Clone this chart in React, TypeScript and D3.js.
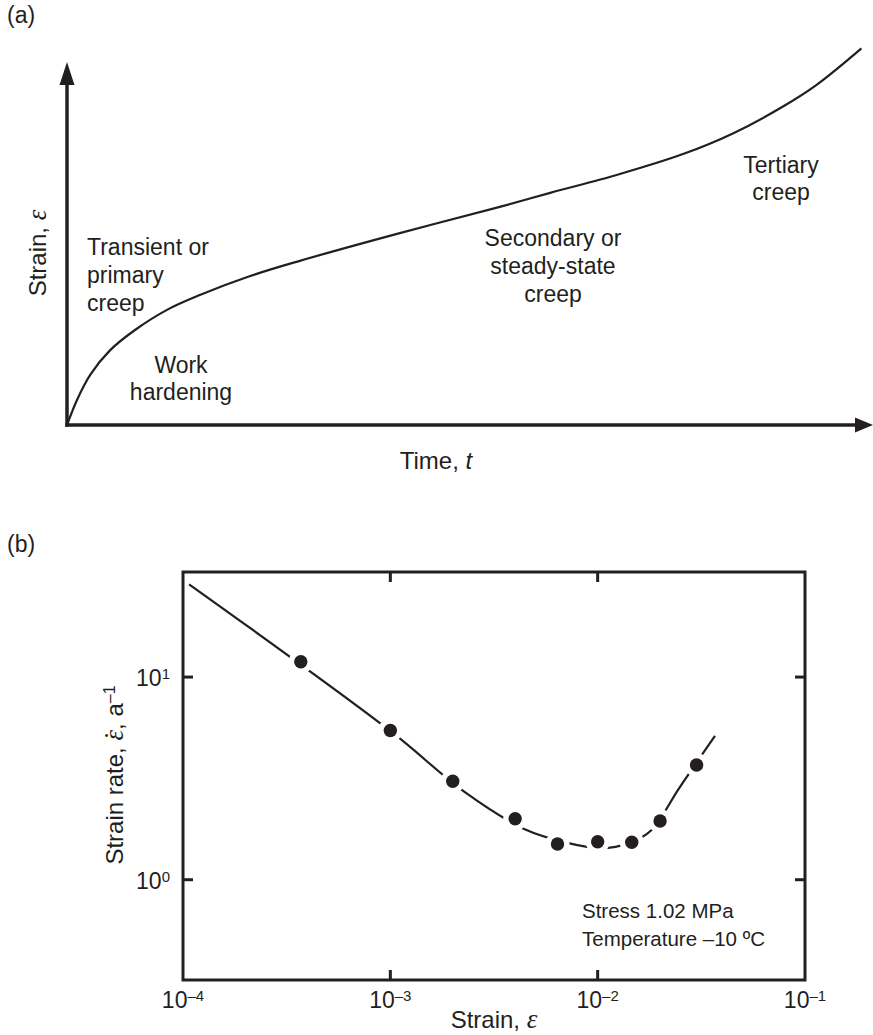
import React from "react";
import * as d3 from "d3";

const INK = "#231f20";
const SANS = "'Liberation Sans', Arial, Helvetica, sans-serif";
const SERIF = "'Liberation Serif', 'Times New Roman', serif";

// (a) idealised creep curve, time vs strain in arbitrary units
const creepTime = [0, 1.25, 2.9, 5.4, 8.5, 12.5, 16.6, 22.9, 29.1, 41.6, 54.1, 60.4, 68.7, 77.0, 83.3, 89.5, 93.7, 99.3];
const creepStrain = [0, 6.6, 13.2, 19.7, 25, 30.3, 34.2, 39.2, 43.2, 50.5, 57.4, 61.1, 65.8, 71.3, 76.8, 83.8, 89.5, 99.1];

// (b) measured strain rate (a^-1) against strain
const obsStrain = [3.7e-4, 1.0e-3, 2.0e-3, 4.0e-3, 6.4e-3, 1.0e-2, 1.46e-2, 2.0e-2, 3.0e-2];
const obsRate = [11.9, 5.45, 3.06, 2.0, 1.5, 1.54, 1.53, 1.95, 3.68];

// trend line drawn through the measurements
const fitStrain = [1.07e-4, 1.0e-3, 2.27e-3, 4.42e-3, 7.14e-3, 1.03e-2, 1.43e-2, 1.82e-2, 2.46e-2, 3.68e-2];
const fitRate = [28.7, 5.42, 2.72, 1.78, 1.52, 1.43, 1.52, 1.76, 2.81, 5.12];

const xTicks = [1e-4, 1e-3, 1e-2, 1e-1];
const xTickExp = ["\u20134", "\u20133", "\u20132", "\u20131"];
const yTicks = [1, 10];
const yTickExp = ["0", "1"];

const Eps = ({ size = 27 }: { size?: number }) => (
  <tspan fontFamily={SERIF} fontStyle="italic" fontSize={size}>ε</tspan>
);

export default function App() {
  // panel (a) scales
  const tx = d3.scaleLinear().domain([0, 100]).range([67, 867]);
  const sy = d3.scaleLinear().domain([0, 100]).range([425, 45]);
  const creepPath =
    d3
      .line<number>()
      .x((_, i) => tx(creepTime[i]))
      .y((_, i) => sy(creepStrain[i]))
      .curve(d3.curveCatmullRom.alpha(0.5))(creepTime) || "";

  const ox = tx(0);
  const oy = sy(0);

  // panel (b) scales
  const x = d3.scaleLog().domain([1e-4, 1e-1]).range([183, 805]);
  const y = d3.scaleLog().domain([0.32, 33]).range([980, 572]);
  const fitPath =
    d3
      .line<number>()
      .x((_, i) => x(fitStrain[i]))
      .y((_, i) => y(fitRate[i]))
      .curve(d3.curveCatmullRom.alpha(0.5))(fitStrain) || "";

  const [x0, x1] = x.range();
  const [y0, y1] = y.range();
  const tickLen = 10;

  return (
    <svg
      width={873}
      height={1035}
      viewBox="0 0 873 1035"
      style={{ position: "absolute", left: 0, top: 0, background: "#fff" }}
      fontFamily={SANS}
      fill={INK}
    >
      <rect x={0} y={0} width={873} height={1035} fill="#fff" />

      {/* ---------- (a) ---------- */}
      <text x={7} y={23} fontSize={23}>(a)</text>

      {/* axes with arrowheads */}
      <line x1={ox} y1={oy + 1.75} x2={ox} y2={84} stroke={INK} strokeWidth={3.5} />
      <polygon points={`${ox},62 ${ox - 7.5},85 ${ox + 7.5},85`} fill={INK} />
      <line x1={ox - 1.75} y1={oy} x2={856} y2={oy} stroke={INK} strokeWidth={3.5} />
      <polygon points={`873,${oy} 855,${oy - 7.5} 855,${oy + 7.5}`} fill={INK} />

      <path d={creepPath} fill="none" stroke={INK} strokeWidth={2.2} />

      <text transform={`translate(46,253) rotate(-90)`} textAnchor="middle" fontSize={24}>
        Strain, <Eps />
      </text>
      <text x={436} y={469} textAnchor="middle" fontSize={24}>
        Time, <tspan fontStyle="italic">t</tspan>
      </text>

      <g fontSize={23}>
        <text x={87} y={255}>Transient or</text>
        <text x={87} y={283}>primary</text>
        <text x={87} y={311}>creep</text>

        <text x={181} y={373} textAnchor="middle">Work</text>
        <text x={181} y={400} textAnchor="middle">hardening</text>

        <text x={553} y={246} textAnchor="middle">Secondary or</text>
        <text x={553} y={274} textAnchor="middle">steady-state</text>
        <text x={553} y={302} textAnchor="middle">creep</text>

        <text x={781} y={173} textAnchor="middle">Tertiary</text>
        <text x={781} y={200} textAnchor="middle">creep</text>
      </g>

      {/* ---------- (b) ---------- */}
      <text x={7} y={552} fontSize={23}>(b)</text>

      <rect x={x0} y={y1} width={x1 - x0} height={y0 - y1} fill="none" stroke={INK} strokeWidth={3} />

      {xTicks.slice(1, -1).map((v) => (
        <g key={`xt${v}`} stroke={INK} strokeWidth={3}>
          <line x1={x(v)} x2={x(v)} y1={y0} y2={y0 - tickLen} />
          <line x1={x(v)} x2={x(v)} y1={y1} y2={y1 + tickLen} />
        </g>
      ))}
      {yTicks.map((v) => (
        <g key={`yt${v}`} stroke={INK} strokeWidth={3}>
          <line x1={x0} x2={x0 + tickLen} y1={y(v)} y2={y(v)} />
          <line x1={x1} x2={x1 - tickLen} y1={y(v)} y2={y(v)} />
        </g>
      ))}

      {xTicks.map((v, i) => (
        <text key={`xl${v}`} x={x(v)} y={1008} textAnchor="middle" fontSize={23}>
          10<tspan fontSize={15} dy={-7}>{xTickExp[i]}</tspan>
        </text>
      ))}
      {yTicks.map((v, i) => (
        <text key={`yl${v}`} x={170} y={y(v) + 9} textAnchor="end" fontSize={23}>
          10<tspan fontSize={15} dy={-7}>{yTickExp[i]}</tspan>
        </text>
      ))}

      <text x={(x0 + x1) / 2} y={1028} textAnchor="middle" fontSize={24}>
        Strain, <Eps />
      </text>
      <text transform={`translate(123,${(y0 + y1) / 2 - 1}) rotate(-90)`} textAnchor="middle" fontSize={24}>
        Strain rate, <Eps />
        <tspan fontFamily={SERIF} fontSize={27} dx={-10}>˙</tspan>
        <tspan dx={1}>, a</tspan>
        <tspan fontSize={16} dy={-8}>–1</tspan>
      </text>

      {/* trend line, broken around each marker */}
      <path d={fitPath} fill="none" stroke={INK} strokeWidth={2.2} />
      {obsStrain.map((v, i) => (
        <circle key={`h${i}`} cx={x(v)} cy={y(obsRate[i])} r={12} fill="#fff" />
      ))}
      {obsStrain.map((v, i) => (
        <circle key={`p${i}`} cx={x(v)} cy={y(obsRate[i])} r={6.7} fill={INK} />
      ))}

      <g fontSize={20.5}>
        <text x={582} y={918}>Stress 1.02 MPa</text>
        <text x={582} y={946}>Temperature –10 ºC</text>
      </g>
    </svg>
  );
}
